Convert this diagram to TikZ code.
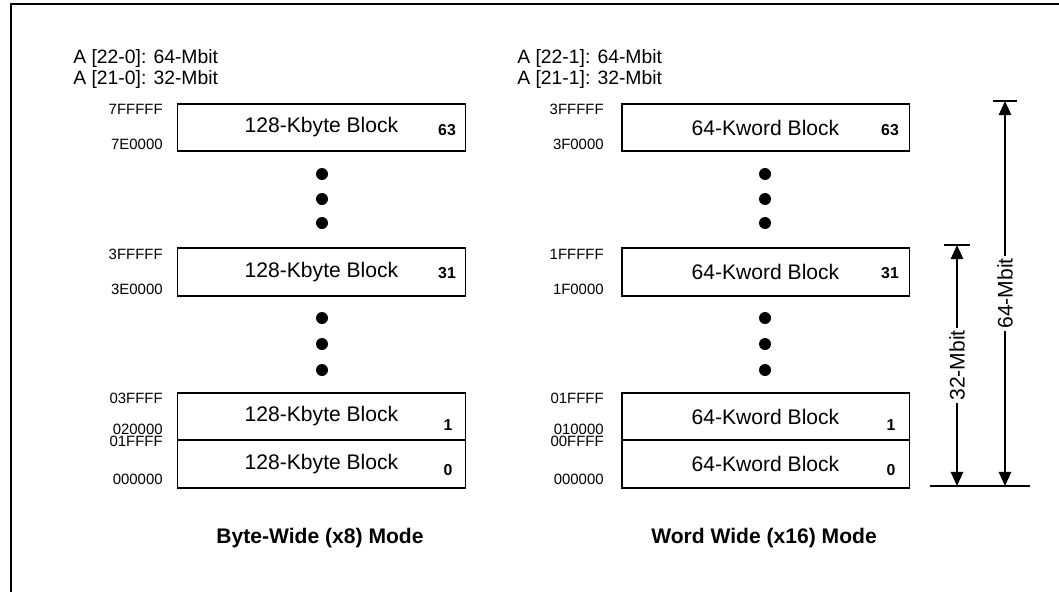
\documentclass[tikz,border=0pt]{standalone}
\usepackage{fontspec}
\setmainfont{Liberation Sans}
\usetikzlibrary{arrows.meta}

\begin{document}
\begin{tikzpicture}[x=0.02cm, y=-0.02cm,
    block/.style={draw, line width=1.1pt, minimum width=5.76cm, minimum height=0.95cm, inner sep=0pt, font=\fontsize{12}{14}\selectfont},
    addr/.style={anchor=east, inner sep=0pt, font=\fontsize{8.5}{10}\selectfont},
    num/.style={inner sep=0pt, font=\fontsize{9}{10}\selectfont\bfseries},
    head/.style={anchor=base west, inner sep=0pt, font=\fontsize{11}{13}\selectfont},
    capt/.style={inner sep=0pt, font=\fontsize{12}{14}\selectfont\bfseries},
    dim/.style={line width=1.1pt, {Triangle[length=8pt,width=7pt]}-{Triangle[length=8pt,width=7pt]}},
    dimlabel/.style={fill=white, rotate=90, inner sep=1.5pt, font=\fontsize{12}{14}\selectfont}]

    \useasboundingbox (0,0) rectangle (1059,592);

    % Frame (only top and left edge are visible)
    \draw[line width=1.7pt] (1059,4) -- (11,4) -- (11,592);

    % Address headers
    \node[head] (hl1) at (73,63) {A [22-0]: 64-Mbit};
    \node[head] (hl2) at (73,84) {A [21-0]: 32-Mbit};
    \node[head] (hr1) at (517,63) {A [22-1]: 64-Mbit};
    \node[head] (hr2) at (517,84) {A [21-1]: 32-Mbit};

    % Byte-wide blocks
    \node[block] (lb63) at (321.5,127.5) {128-Kbyte Block};
    \node[block] (lb31) at (321.5,272) {128-Kbyte Block};
    \node[block] (lb1) at (321.5,416.5) {128-Kbyte Block};
    \node[block] (lb0) at (321.5,464) {128-Kbyte Block};

    \node[num] (ln63) at (447,130) {63};
    \node[num] (ln31) at (447,273) {31};
    \node[num] (ln1) at (448,425) {1};
    \node[num] (ln0) at (448,470) {0};

    % Word-wide blocks
    \node[block] (rb63) at (765.5,127.5) {64-Kword Block};
    \node[block] (rb31) at (765.5,272) {64-Kword Block};
    \node[block] (rb1) at (765.5,416.5) {64-Kword Block};
    \node[block] (rb0) at (765.5,464) {64-Kword Block};

    \node[num] (rn63) at (890,130) {63};
    \node[num] (rn31) at (890,273) {31};
    \node[num] (rn1) at (891,425) {1};
    \node[num] (rn0) at (891,470) {0};

    % Addresses, byte-wide
    \node[addr] (la1) at (163,109) {7FFFFF};
    \node[addr] (la2) at (163,144) {7E0000};
    \node[addr] (la3) at (163,254) {3FFFFF};
    \node[addr] (la4) at (163,289) {3E0000};
    \node[addr] (la5) at (163,398) {03FFFF};
    \node[addr] (la6) at (163,429.5) {020000};
    \node[addr] (la7) at (163,441.5) {01FFFF};
    \node[addr] (la8) at (163,479) {000000};

    % Addresses, word-wide
    \node[addr] (ra1) at (604,109) {3FFFFF};
    \node[addr] (ra2) at (604,144) {3F0000};
    \node[addr] (ra3) at (604,254) {1FFFFF};
    \node[addr] (ra4) at (604,289) {1F0000};
    \node[addr] (ra5) at (604,398) {01FFFF};
    \node[addr] (ra6) at (604,429.5) {010000};
    \node[addr] (ra7) at (604,441.5) {00FFFF};
    \node[addr] (ra8) at (604,479) {000000};

    % Dots for the blocks left out
    \foreach \y in {174,199,223,318,344,370} {
        \fill (322,\y) circle (6);
        \fill (765,\y) circle (6);
    }

    % Size arrows
    \coordinate (top64) at (1005,101);
    \coordinate (bot64) at (1005,486);
    \coordinate (top32) at (957,245);
    \coordinate (bot32) at (957,486);

    \draw[line width=1.1pt] ([xshift=-0.24cm]top64) -- ([xshift=0.24cm]top64);
    \draw[line width=1.1pt] ([xshift=-0.26cm]top32) -- ([xshift=0.26cm]top32);
    \draw[line width=1.1pt] ([xshift=-0.54cm]bot32) -- ([xshift=0.5cm]bot64);

    \draw[dim] (top64) -- node[dimlabel] (l64) {64-Mbit} (bot64);
    \draw[dim] (top32) -- node[dimlabel] (l32) {32-Mbit} (bot32);

    % Captions
    \node[capt] (capl) at (320,538) {Byte-Wide (x8) Mode};
    \node[capt] (capr) at (764,538) {Word Wide (x16) Mode};
\end{tikzpicture}
\end{document}
